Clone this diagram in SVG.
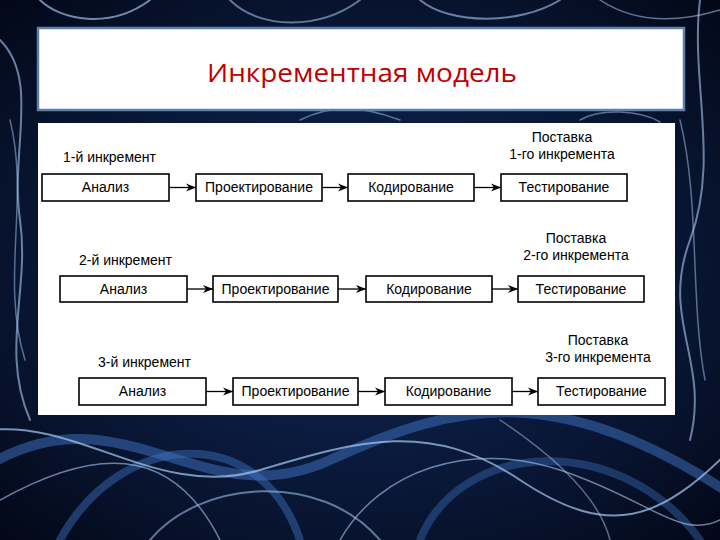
<svg xmlns="http://www.w3.org/2000/svg" width="720" height="540" viewBox="0 0 720 540">
<defs>
<radialGradient id="bg" cx="50%" cy="50%" r="70%">
<stop offset="0" stop-color="#10285a"/>
<stop offset="0.6" stop-color="#091736"/>
<stop offset="1" stop-color="#030818"/>
</radialGradient>
<marker id="ah" viewBox="0 0 10 10" refX="10" refY="5" markerWidth="10" markerHeight="10" markerUnits="userSpaceOnUse" orient="auto">
<path d="M0,1 L10,5 L0,9 L3,5 Z" fill="#000"/>
</marker>
<style>
.fib{fill:none;stroke:#a8ccf4;stroke-linecap:round}
.fib2{fill:none;stroke:#3f74c4;stroke-linecap:round}
.box{fill:#fff;stroke:#000;stroke-width:1.6}
.t{font-family:"Liberation Sans",Arial,sans-serif;font-size:14px;fill:#000;text-anchor:middle}
.lab{font-family:"Liberation Sans",Arial,sans-serif;font-size:14px;fill:#000}
.con{stroke:#000;stroke-width:1.3;fill:none;marker-end:url(#ah)}
</style>
</defs>
<rect width="720" height="540" fill="url(#bg)"/>
<g id="background-fibres">
<path class="fib2" stroke-width="10" opacity="0.5" d="M-20,470 C120,380 200,520 330,460 S560,380 740,500"/>
<path class="fib2" stroke-width="8" opacity="0.45" d="M60,540 C120,430 260,420 300,540"/>
<path class="fib2" stroke-width="8" opacity="0.4" d="M420,540 C460,440 620,430 700,540"/>
<path class="fib" stroke-width="2" opacity="0.7" d="M-10,430 C80,420 160,500 260,470 S430,420 520,480 S660,520 730,450"/>
<path class="fib" stroke-width="1.5" opacity="0.6" d="M0,500 C90,450 170,440 220,540"/>
<path class="fib" stroke-width="1.5" opacity="0.6" d="M340,540 C380,470 470,440 560,470 S680,540 720,520"/>
<path class="fib" stroke-width="2" opacity="0.55" d="M150,540 C200,480 320,470 380,540"/>
<path class="fib" stroke-width="1.5" opacity="0.5" d="M500,420 C560,460 600,500 610,540"/>
<path class="fib" stroke-width="2" opacity="0.6" d="M0,40 C40,80 10,150 20,220 S0,350 30,420"/>
<path class="fib" stroke-width="1.5" opacity="0.5" d="M10,120 C30,200 0,280 25,360"/>
<path class="fib" stroke-width="2" opacity="0.6" d="M700,0 C690,80 720,160 690,240 S710,360 690,440"/>
<path class="fib" stroke-width="1.5" opacity="0.5" d="M680,120 C700,200 690,300 705,380"/>
<path class="fib" stroke-width="2" opacity="0.65" d="M40,0 C60,20 110,30 150,0"/>
<path class="fib" stroke-width="2" opacity="0.55" d="M230,0 C260,30 320,30 360,0"/>
<path class="fib" stroke-width="2" opacity="0.6" d="M420,0 C450,25 520,25 560,0"/>
<path class="fib" stroke-width="1.5" opacity="0.55" d="M600,0 C630,20 670,25 720,10"/>
<path class="fib" stroke-width="1.5" opacity="0.5" d="M300,120 C330,105 360,105 400,120"/>
<path class="fib" stroke-width="1.5" opacity="0.5" d="M580,120 C600,108 640,110 660,122"/>
</g>
<g id="title">
<rect x="38" y="28" width="646" height="82" fill="#fff" stroke="#5d7fae" stroke-width="2.5"/>
<text x="362" y="82" font-family="'Open Sans','Noto Sans',sans-serif" font-size="26" fill="#c00000" text-anchor="middle" textLength="310" lengthAdjust="spacingAndGlyphs">Инкрементная модель</text>
</g>
<rect id="panel" x="38" y="123" width="637" height="292" fill="#fff"/>
<g id="row1">
<text class="lab" x="63" y="162">1-й инкремент</text>
<text class="t" x="562" y="142">Поставка</text>
<text class="t" x="562" y="159">1-го инкремента</text>
<g id="r1-analiz"><rect class="box" x="42" y="174" width="127" height="27"/><text class="t" x="105.5" y="192">Анализ</text></g>
<g id="r1-proekt"><rect class="box" x="196" y="174" width="126" height="27"/><text class="t" x="259" y="192">Проектирование</text></g>
<g id="r1-kod"><rect class="box" x="348" y="174" width="126" height="27"/><text class="t" x="411" y="192">Кодирование</text></g>
<g id="r1-test"><rect class="box" x="501" y="174" width="126" height="27"/><text class="t" x="564" y="192">Тестирование</text></g>
</g>
<g id="row2">
<text class="lab" x="79" y="265">2-й инкремент</text>
<text class="t" x="576" y="243">Поставка</text>
<text class="t" x="576" y="260">2-го инкремента</text>
<g id="r2-analiz"><rect class="box" x="60" y="276" width="127" height="26"/><text class="t" x="123.5" y="294">Анализ</text></g>
<g id="r2-proekt"><rect class="box" x="213" y="276" width="125" height="26"/><text class="t" x="275.5" y="294">Проектирование</text></g>
<g id="r2-kod"><rect class="box" x="366" y="276" width="126" height="26"/><text class="t" x="429" y="294">Кодирование</text></g>
<g id="r2-test"><rect class="box" x="518" y="276" width="126" height="26"/><text class="t" x="581" y="294">Тестирование</text></g>
</g>
<g id="row3">
<text class="lab" x="98" y="367">3-й инкремент</text>
<text class="t" x="598" y="345">Поставка</text>
<text class="t" x="598" y="362">3-го инкремента</text>
<g id="r3-analiz"><rect class="box" x="79" y="378" width="127" height="27"/><text class="t" x="142.5" y="396">Анализ</text></g>
<g id="r3-proekt"><rect class="box" x="233" y="378" width="125" height="27"/><text class="t" x="295.5" y="396">Проектирование</text></g>
<g id="r3-kod"><rect class="box" x="385" y="378" width="127" height="27"/><text class="t" x="448.5" y="396">Кодирование</text></g>
<g id="r3-test"><rect class="box" x="538" y="378" width="127" height="27"/><text class="t" x="601.5" y="396">Тестирование</text></g>
</g>
<g id="connectors">
<line class="con" x1="169" y1="187.5" x2="196" y2="187.5"/>
<line class="con" x1="322" y1="187.5" x2="348" y2="187.5"/>
<line class="con" x1="474" y1="187.5" x2="501" y2="187.5"/>
<line class="con" x1="187" y1="289" x2="213" y2="289"/>
<line class="con" x1="338" y1="289" x2="366" y2="289"/>
<line class="con" x1="492" y1="289" x2="518" y2="289"/>
<line class="con" x1="206" y1="391.5" x2="233" y2="391.5"/>
<line class="con" x1="358" y1="391.5" x2="385" y2="391.5"/>
<line class="con" x1="512" y1="391.5" x2="538" y2="391.5"/>
</g>
</svg>
